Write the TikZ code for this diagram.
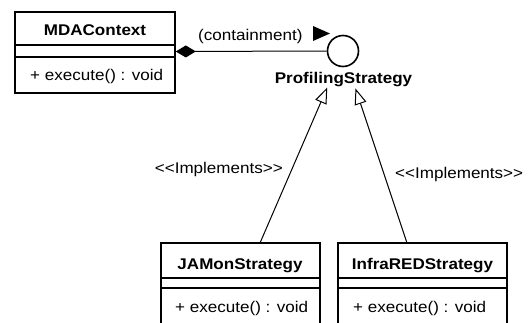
\documentclass[tikz,border=0pt]{standalone}
\usepackage{fontspec}
\setmainfont{Liberation Sans}[FakeStretch=1.1, Ligatures=TeXOff]
\usetikzlibrary{arrows.meta,calc}
\begin{document}
\begin{tikzpicture}[x=1pt,y=-1pt,
  txt/.style={font=\fontsize{15.5pt}{18pt}\selectfont, inner sep=0pt},
  title/.style={txt, font=\fontsize{15.5pt}{18pt}\selectfont\bfseries, anchor=base},
  meth/.style={txt, anchor=base west},
  classbox/.style={draw, line width=1.6pt, rectangle, inner sep=0pt},
  sepline/.style={line width=1.6pt},
  conn/.style={line width=1pt},
  realize/.style={conn, -{Triangle[open, length=16pt, width=12pt, line width=1pt]}},
  compose/.style={conn, {Diamond[length=20pt, width=12pt]}-}]
\useasboundingbox (0,0) rectangle (528,322);
\clip (0,0) rectangle (528,322);
% MDAContext
\node[classbox, minimum width=160pt, minimum height=81pt] (mda) at (95,52.5) {};
\node[title] (mdaname) at (95,35) {MDAContext};
\draw[sepline] (15,45) -- (175,45);
\draw[sepline] (15,57) -- (175,57);
\node[meth] (mdameth) at (30,80) {+ execute() : void};
% Interface
\node[circle, draw, line width=1.6pt, minimum size=31pt, inner sep=0pt] (ps) at (343,51) {};
\node[title] (psname) at (343.5,83) {ProfilingStrategy};
% composition
\draw[compose] (mda.east |- 0,51.5) -- (ps.west);
\node[txt, anchor=base west] (contlab) at (198,40) {(containment)};
\fill (313,26) -- (330,33.5) -- (313,41) -- cycle;
% JAMonStrategy
\node[classbox, minimum width=159pt, minimum height=92pt] (jam) at (240.5,289) {};
\node[title] (jamname) at (240,269) {JAMonStrategy};
\draw[sepline] (161,278) -- (320,278);
\draw[sepline] (161,288) -- (320,288);
\node[meth] (jammeth) at (175,312) {+ execute() : void};
% InfraREDStrategy
\node[classbox, minimum width=169pt, minimum height=92pt] (inf) at (422.5,289) {};
\node[title] (infname) at (422.5,269) {InfraREDStrategy};
\draw[sepline] (338,278) -- (507,278);
\draw[sepline] (338,288) -- (507,288);
\node[meth] (infmeth) at (353,312) {+ execute() : void};
% realizations
\coordinate (aL) at (260,243);
\coordinate (aR) at (407,243);
\coordinate (tL) at ($(aL)!0.81!(ps.center)$);
\coordinate (tR) at ($(aR)!0.805!(ps.center)$);
\draw[realize] (aL) -- (tL);
\draw[realize] (aR) -- (tR);
\node[txt, anchor=base east] (implL) at (283,173.5) {<<Implements>>};
\node[txt, anchor=base west] (implR) at (395,178.5) {<<Implements>>};
\end{tikzpicture}
\end{document}
